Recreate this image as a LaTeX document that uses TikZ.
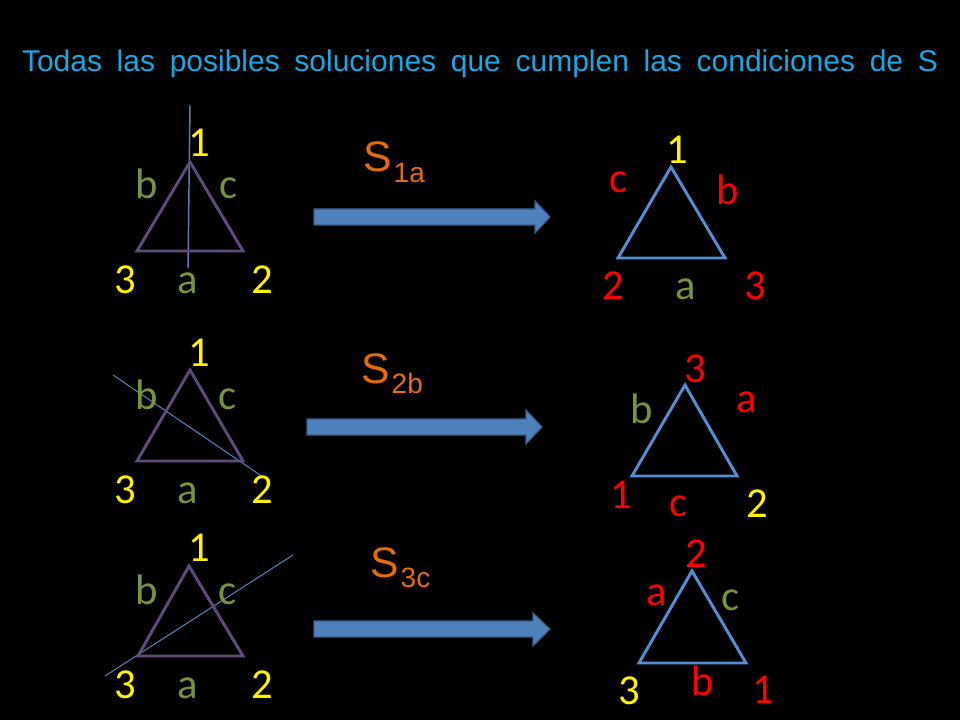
\documentclass[tikz,border=0pt]{standalone}
\usepackage{fontspec}
\setmainfont{Liberation Sans}
\newfontfamily\calfont{Carlito}
\usepackage{tikz}
\definecolor{titleblue}{RGB}{22,168,228}
\definecolor{sorange}{RGB}{228,108,10}
\definecolor{olive}{RGB}{119,147,60}
\definecolor{triviolet}{RGB}{96,74,123}
\definecolor{triblue}{RGB}{85,142,213}
\definecolor{arrowblue}{RGB}{79,129,189}
\definecolor{arrowedge}{RGB}{56,93,138}
\definecolor{cutblue}{RGB}{79,129,189}
\tikzstyle{lbl}=[anchor=base,inner sep=0pt,font=\calfont\fontsize{32}{32}\selectfont]
\tikzstyle{vyel}=[lbl,text=yellow]
\tikzstyle{vred}=[lbl,text=red]
\tikzstyle{sol}=[lbl,text=olive]
\tikzstyle{sred}=[lbl,text=red]
\tikzstyle{tri}=[line width=2.2pt]
\tikzstyle{oldtri}=[tri,draw=triviolet]
\tikzstyle{newtri}=[tri,draw=triblue]
\tikzstyle{cut}=[draw=cutblue,line width=.8pt]
\tikzstyle{bigarrow}=[fill=arrowblue,draw=arrowedge,line width=.9pt]
\tikzstyle{slabel}=[anchor=base west,inner sep=0pt,text=sorange,font=\fontsize{32}{32}\selectfont]
\newcommand{\subs}[1]{\kern1.5pt\raisebox{-8.2pt}{\fontsize{21}{21}\selectfont #1}}

\begin{document}
\begin{tikzpicture}[x=.75pt,y=-.75pt]
    \fill[black] (0,0) rectangle (960,720);
    \useasboundingbox (0,0) rectangle (960,720);

    \node[anchor=base,inner sep=0pt,text=titleblue,font=\fontsize{22.5}{22.5}\selectfont] (title) at (480,72)
    {\makebox[687pt][s]{Todas las posibles soluciones que cumplen las condiciones de S}};

    % fila 1
    \draw[cut,line width=1.1pt] (190,105) -- (188,268);
    \draw[oldtri] (190,162) -- (137,251) -- (243,251) -- cycle;
    \node[vyel] (a1) at (199,157) {1};
    \node[sol] (a1b) at (147,199) {b};
    \node[sol] (a1c) at (229,199) {c};
    \node[vyel] (a13) at (125,293) {3};
    \node[sol] (a1a) at (188,293) {a};
    \node[vyel] (a12) at (262,293) {2};

    \node[slabel] (s1a) at (363,172) {S\subs{1a}};
    \draw[bigarrow] (314,209) -- (535,209) -- (535,201) -- (550,217) -- (535,233) -- (535,225) -- (314,225) -- cycle;

    \draw[newtri] (671,167) -- (618,258) -- (725,258) -- cycle;
    \node[vyel] (b11) at (677,164) {1};
    \node[sred] (b1c) at (619,193) {c};
    \node[sred] (b1b) at (728,205) {b};
    \node[vred] (b12) at (613,300) {2};
    \node[sol] (b1a) at (686,300) {a};
    \node[vred] (b13) at (755,300) {3};

    % fila 2
    \draw[cut] (113,375) -- (263,477);
    \draw[oldtri] (190,370) -- (137,461) -- (243,461) -- cycle;
    \node[vyel] (a21) at (199,366) {1};
    \node[sol] (a2b) at (147,409) {b};
    \node[sol] (a2c) at (228,409) {c};
    \node[vyel] (a23) at (125,503) {3};
    \node[sol] (a2a) at (188,503) {a};
    \node[vyel] (a22) at (262,503) {2};

    \node[slabel] (s2b) at (361,383) {S\subs{2b}};
    \draw[bigarrow] (307,419) -- (526,419) -- (526,410) -- (542,427) -- (526,444) -- (526,435) -- (307,435) -- cycle;

    \draw[newtri] (685,385) -- (632,476) -- (737,476) -- cycle;
    \node[vred] (b23) at (695,382) {3};
    \node[sred] (b2a) at (747,412) {a};
    \node[sol] (b2b) at (642,423) {b};
    \node[vred] (b21) at (621,508) {1};
    \node[sred] (b2c) at (679,516) {c};
    \node[vyel] (b22) at (757,517) {2};

    % fila 3
    \draw[cut] (105,676) -- (293,555);
    \draw[oldtri] (189,566) -- (138,656) -- (243,656) -- cycle;
    \node[vyel] (a31) at (199,561) {1};
    \node[sol] (a3b) at (147,604) {b};
    \node[sol] (a3c) at (228,604) {c};
    \node[vyel] (a33) at (125,698) {3};
    \node[sol] (a3a) at (188,698) {a};
    \node[vyel] (a32) at (262,698) {2};

    \node[slabel] (s3c) at (370,577) {S\subs{3c}};
    \draw[bigarrow] (314,621) -- (533,621) -- (533,613) -- (550,629) -- (533,646) -- (533,637) -- (314,637) -- cycle;

    \draw[newtri] (692,571) -- (639,663) -- (746,663) -- cycle;
    \node[vred] (b32) at (696,567) {2};
    \node[sred] (b3a) at (657,605) {a};
    \node[sol] (b3c) at (731,610) {c};
    \node[vyel] (b33) at (629,704) {3};
    \node[sred] (b3b) at (703,695) {b};
    \node[vred] (b31) at (763,703) {1};
\end{tikzpicture}
\end{document}
